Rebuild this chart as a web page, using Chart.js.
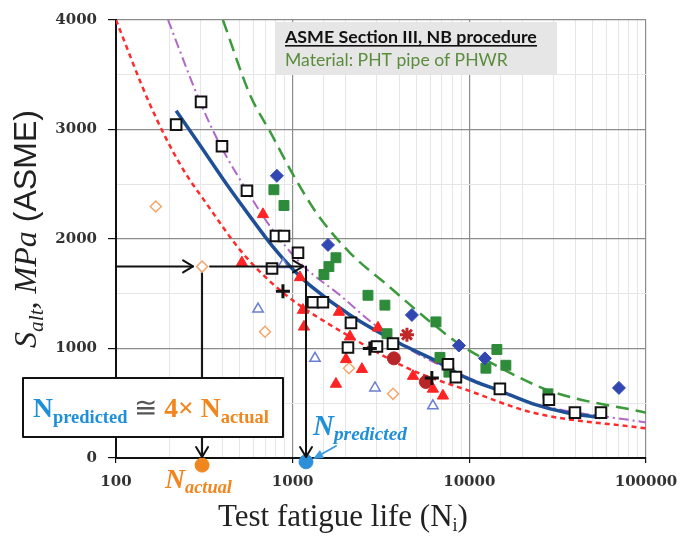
<!DOCTYPE html>
<html>
<head>
<meta charset="utf-8">
<script src="https://cdn.jsdelivr.net/npm/chart.js"></script>
<style>
    html, body { margin: 0; padding: 0; background: #fff; }
    #wrap { width: 696px; height: 539px; }
</style>
</head>
<body>
<div id="wrap"><canvas id="fatigueChart" width="696" height="539"></canvas></div>
<script>
// tick labels
const X_TICKS = [100, 1000, 10000, 100000];
const Y_TICKS = [0, 1000, 2000, 3000, 4000];

// test data (N = cycles, S = MPa)
const squareN = [219, 303, 398, 551, 804, 893, 1072, 764, 1303, 1483, 2138, 2056, 3000, 3696, 7568, 8395, 14890, 28200, 39600, 55600];
const squareS = [3045, 3252, 2847, 2441, 2027, 2027, 1874, 1730, 1423, 1423, 1234, 1009, 1018, 1045, 856, 739, 631, 532, 414, 414];

const greenN = [783, 893, 1758, 1604, 1503, 2668, 3327, 6470, 3419, 6820, 7660, 14320, 12410, 16100, 27860];
const greenS = [2450, 2306, 1829, 1748, 1676, 1486, 1396, 1243, 1135, 919, 784, 991, 820, 847, 586];

const diamondN = [814, 1585, 4730, 8730, 12250, 70300];
const diamondS = [2577, 1946, 1306, 1027, 910, 640];

const triN = [679, 516, 1099, 1143, 1159, 1828, 2110, 2004, 2466, 1758, 3040, 4800, 6220, 7090, 6820];
const triS = [2225, 1784, 1649, 1351, 1198, 1333, 1108, 901, 811, 676, 1189, 748, 631, 568, 901];

const openDiamondN = [168, 307, 697, 2084, 3700];
const openDiamondS = [2297, 1748, 1153, 820, 586];

const openTriN = [637, 881, 1338, 2924, 6220];
const openTriS = [1360, 1766, 910, 640, 477];

const circleN = [3740, 5670];
const circleS = [910, 694];

const plusN = [881, 2735, 6135];
const plusS = [1522, 1000, 730];

const starN = [4436];
const starS = [1126];

// curves
const fitN = [219, 299, 425, 573, 774, 1004, 1253, 2110, 4048, 6223, 9692, 14900, 22900, 35670, 54830];
const fitS = [3171, 2856, 2495, 2207, 1928, 1721, 1577, 1306, 1045, 901, 730, 613, 495, 414, 369];

const lowerN = [100, 156, 230, 340, 503, 714, 1000, 2110, 4600, 10000, 22900, 100000];
const lowerS = [4000, 3225, 2685, 2279, 1901, 1640, 1441, 1108, 811, 613, 414, 270];

const meanN = [197, 299, 387, 551, 744, 1143, 1855, 2840, 4500, 10000, 22900, 100000];
const meanS = [4000, 3252, 2865, 2441, 2117, 1757, 1486, 1230, 1000, 730, 500, 324];

const upperN = [403, 574, 744, 1000, 1370, 2110, 3500, 5740, 8860, 11950, 28600, 100000];
const upperS = [4000, 3315, 2982, 2595, 2234, 1874, 1568, 1270, 1036, 910, 613, 414];

// worked example
const ARROW_S = 1750;
const N_ACTUAL = 307;
const N_PREDICTED = 1190;

const BLUE_TXT = "#1f8fd8";
const ORANGE_TXT = "#f2861e";

const pairs = (xs, ys) => xs.map((x, i) => ({ x: x, y: ys[i] }));

const markers = (label, xs, ys, style, fill, stroke, r, bw) => ({
    label: label,
    data: pairs(xs, ys),
    showLine: false,
    pointStyle: style,
    pointRadius: r,
    pointHoverRadius: r,
    pointBackgroundColor: fill,
    pointBorderColor: stroke,
    pointBorderWidth: bw,
});

const curve = (label, xs, ys, color, width, dash) => ({
    label: label,
    data: pairs(xs, ys),
    showLine: true,
    borderColor: color,
    borderWidth: width,
    borderDash: dash,
    pointRadius: 0,
    pointHoverRadius: 0,
    cubicInterpolationMode: "monotone",
    fill: false,
});

function isTick(list, v) {
    return list.some((t) => Math.abs(t - v) <= Math.max(1e-6, t * 1e-6));
}

// draws text pieces one after another, scaled so they fill `width`
function drawRuns(ctx, runs, x, y, width) {
    const font = (r, k) => `${r.style || "normal"} ${r.weight || "normal"} ${r.size * k}px ${r.family}`;
    let total = 0;
    runs.forEach((r) => { ctx.font = font(r, 1); total += ctx.measureText(r.text).width; });
    const k = width ? width / total : 1;
    let cx = x;
    ctx.textAlign = "left";
    ctx.textBaseline = "alphabetic";
    runs.forEach((r) => {
        ctx.font = font(r, k);
        ctx.fillStyle = r.color;
        ctx.fillText(r.text, cx, y + (r.dy || 0) * k);
        cx += ctx.measureText(r.text).width;
    });
}

function chevronRight(ctx, tx, ty) {
    ctx.beginPath();
    ctx.moveTo(tx - 10, ty - 6);
    ctx.lineTo(tx, ty);
    ctx.lineTo(tx - 10, ty + 6);
    ctx.stroke();
}

function chevronDown(ctx, tx, ty) {
    ctx.beginPath();
    ctx.moveTo(tx - 6, ty - 10);
    ctx.lineTo(tx, ty);
    ctx.lineTo(tx + 6, ty - 10);
    ctx.stroke();
}

const overlay = {
    id: "overlay",
    afterDatasetsDraw(chart) {
        const { ctx, chartArea, scales: { x, y } } = chart;
        const ya = y.getPixelForValue(ARROW_S);
        const xa = x.getPixelForValue(N_ACTUAL);
        const xp = x.getPixelForValue(N_PREDICTED);
        const base = y.getPixelForValue(0);

        ctx.save();
        ctx.strokeStyle = "#111";
        ctx.lineWidth = 2;
        ctx.lineCap = "round";
        ctx.lineJoin = "round";

        // horizontal arrows
        ctx.beginPath();
        ctx.moveTo(chartArea.left, ya);
        ctx.lineTo(xa - 9, ya);
        ctx.moveTo(xa + 8, ya);
        ctx.lineTo(xp - 3, ya);
        ctx.stroke();
        chevronRight(ctx, xa - 9, ya);
        chevronRight(ctx, xp - 3, ya);

        // vertical arrows
        ctx.beginPath();
        ctx.moveTo(xa, ya + 7);
        ctx.lineTo(xa, base - 1);
        ctx.moveTo(xp, ya);
        ctx.lineTo(xp, base - 1);
        ctx.stroke();
        chevronDown(ctx, xa, base - 1);
        chevronDown(ctx, xp, base - 1);

        // ratio box
        ctx.fillStyle = "#fff";
        ctx.fillRect(23, 378, 260, 59);
        ctx.lineWidth = 2;
        ctx.strokeRect(23, 378, 260, 59);
        drawRuns(ctx, [
            { text: "N", size: 24, weight: "bold", family: "'Liberation Serif'", color: BLUE_TXT },
            { text: "predicted", size: 16, weight: "bold", family: "'Liberation Serif'", color: BLUE_TXT, dy: 5 },
            { text: " \u2245 ", size: 24, family: "'Liberation Serif'", color: "#555" },
            { text: "4\u00d7 N", size: 24, weight: "bold", family: "'Liberation Serif'", color: ORANGE_TXT },
            { text: "actual", size: 16, weight: "bold", family: "'Liberation Serif'", color: ORANGE_TXT, dy: 5 },
        ], 33, 417, 236);

        // N labels
        drawRuns(ctx, [
            { text: "N", size: 24, weight: "bold", style: "italic", family: "'Liberation Serif'", color: BLUE_TXT },
            { text: "predicted", size: 16, weight: "bold", style: "italic", family: "'Liberation Serif'", color: BLUE_TXT, dy: 4 },
        ], 313, 435, 94);
        drawRuns(ctx, [
            { text: "N", size: 24, weight: "bold", style: "italic", family: "'Liberation Serif'", color: ORANGE_TXT },
            { text: "actual", size: 16, weight: "bold", style: "italic", family: "'Liberation Serif'", color: ORANGE_TXT, dy: 4 },
        ], 165, 488, 67);

        // little pointer to the predicted point
        ctx.strokeStyle = "#3d9be0";
        ctx.fillStyle = "#3d9be0";
        ctx.lineWidth = 2;
        ctx.beginPath();
        ctx.moveTo(336, 446);
        ctx.lineTo(320, 455);
        ctx.stroke();
        ctx.beginPath();
        ctx.moveTo(313, 459);
        ctx.lineTo(320, 450);
        ctx.lineTo(324, 458);
        ctx.closePath();
        ctx.fill();

        // legend box
        ctx.fillStyle = "#e6e6e6";
        ctx.fillRect(276, 22, 281, 53);
        drawRuns(ctx, [
            { text: "ASME Section III, NB procedure", size: 16, weight: "bold", family: "Lato", color: "#111" },
        ], 285, 43, 252);
        ctx.fillStyle = "#111";
        ctx.fillRect(285, 45, 252, 1.6);
        drawRuns(ctx, [
            { text: "Material: PHT pipe of PHWR", size: 16, family: "Lato", color: "#5a8c3c" },
        ], 285, 66, 223);
        ctx.restore();
    },
    afterDraw(chart) {
        const { ctx } = chart;
        ctx.save();
        // x title
        drawRuns(ctx, [
            { text: "Test fatigue life (N", size: 24, family: "'Liberation Serif'", color: "#222" },
            { text: "i", size: 14, family: "'Liberation Serif'", color: "#222", dy: 4 },
            { text: ")", size: 24, family: "'Liberation Serif'", color: "#222" },
        ], 218, 526, 250);
        // y title
        ctx.translate(36, 348);
        ctx.rotate(-Math.PI / 2);
        drawRuns(ctx, [
            { text: "S", size: 24, style: "italic", family: "'Liberation Serif'", color: "#222" },
            { text: "alt", size: 16, style: "italic", family: "'Liberation Serif'", color: "#222", dy: 5 },
            { text: ", ", size: 24, style: "italic", family: "'Liberation Serif'", color: "#222" },
            { text: "MPa", size: 24, style: "italic", family: "'Liberation Serif'", color: "#222" },
            { text: " (ASME)", size: 24, family: "'Liberation Sans'", color: "#222" },
        ], 0, 0, 238);
        ctx.restore();
    },
};

const tickFont = { family: "'DejaVu Serif'", size: 15, weight: "bold" };

new Chart(document.getElementById("fatigueChart"), {
    type: "scatter",
    data: {
        datasets: [
            Object.assign(markers("N actual", [N_ACTUAL], [-65], "circle", "#f2861e", "#f2861e", 7, 1), { clip: false }),
            Object.assign(markers("N predicted", [N_PREDICTED], [-35], "circle", "#2a8fd8", "#2a8fd8", 7, 1), { clip: false }),
            markers("Plus", plusN, plusS, "cross", "#111", "#111", 7, 3),
            markers("Star", starN, starS, "star", "#c0282a", "#c0282a", 7, 3),
            markers("Squares", squareN, squareS, "rect", "#fff", "#111", 7.5, 2),
            markers("Diamonds", diamondN, diamondS, "rectRot", "#3347b3", "#3347b3", 6.5, 1),
            markers("Green", greenN, greenS, "rect", "#2e8b3a", "#2e8b3a", 7, 1),
            markers("Triangles", triN, triS, "triangle", "#ff2323", "#ff2323", 6.5, 1),
            markers("Circles", circleN, circleS, "circle", "#b8262a", "#b8262a", 6.5, 1),
            markers("Open diamonds", openDiamondN, openDiamondS, "rectRot", "#fff", "#f3a66a", 5.5, 1.5),
            markers("Open triangles", openTriN, openTriS, "triangle", "#fff", "#6a7fd2", 6, 1.5),
            curve("Fit", fitN, fitS, "#1f4f96", 3.5, []),
            curve("Lower", lowerN, lowerS, "#ff2a2a", 2.5, [5, 4]),
            curve("Mean", meanN, meanS, "#b166c8", 2, [10, 4, 2, 4]),
            curve("Upper", upperN, upperS, "#3b9a3b", 2.5, [13, 7]),
        ],
    },
    options: {
        responsive: false,
        animation: false,
        events: [],
        layout: { padding: { top: 14, right: 50, left: 0, bottom: 0 } },
        plugins: {
            legend: { display: false },
            tooltip: { enabled: false },
            title: { display: false },
        },
        scales: {
            x: {
                type: "logarithmic",
                min: 100,
                max: 100000,
                afterFit: (scale) => { scale.height = 81; },
                border: { color: "#111", width: 2 },
                grid: {
                    color: (c) => (c.tick && isTick(X_TICKS, c.tick.value) ? "#8c8c8c" : "#e6e6e6"),
                    lineWidth: (c) => (c.tick && isTick(X_TICKS, c.tick.value) ? 1.2 : 1),
                    tickColor: (c) => (c.tick && isTick(X_TICKS, c.tick.value) ? "#111" : "rgba(0,0,0,0)"),
                    tickLength: 5,
                    drawTicks: true,
                },
                ticks: {
                    autoSkip: false,
                    maxRotation: 0,
                    padding: 10,
                    color: "#333",
                    font: tickFont,
                    callback: (v) => (isTick(X_TICKS, v) ? String(Math.round(v)) : ""),
                },
            },
            y: {
                type: "linear",
                min: 0,
                max: 4000,
                afterFit: (scale) => { scale.width = 116; },
                border: { color: "#111", width: 2 },
                grid: {
                    color: (c) => (c.tick && isTick(Y_TICKS, c.tick.value) ? "#8c8c8c" : "#e6e6e6"),
                    lineWidth: (c) => (c.tick && isTick(Y_TICKS, c.tick.value) ? 1.2 : 1),
                    tickColor: (c) => (c.tick && isTick(Y_TICKS, c.tick.value) ? "#111" : "rgba(0,0,0,0)"),
                    tickLength: 8,
                },
                ticks: {
                    stepSize: 500,
                    autoSkip: false,
                    padding: 11,
                    color: "#333",
                    font: tickFont,
                    callback: (v) => (isTick(Y_TICKS, v) ? String(v) : ""),
                },
            },
        },
    },
    plugins: [overlay],
});
</script>
</body>
</html>
